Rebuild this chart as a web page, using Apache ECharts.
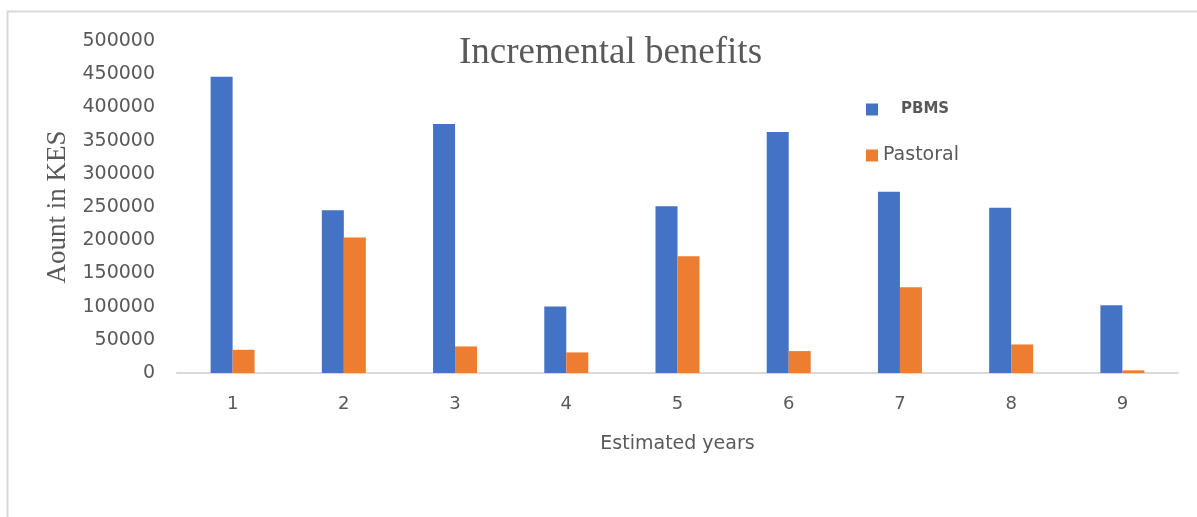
<!DOCTYPE html>
<html>
<head>
<meta charset="utf-8">
<script src="https://cdn.jsdelivr.net/npm/echarts@6/dist/echarts.min.js"></script>
<style>
  html, body { margin: 0; padding: 0; background: #fff; }
  #chart { width: 1197px; height: 517px; }
</style>
</head>
<body>
<div id="chart"></div>
<script>
// Incremental benefits per estimated year (KES)
const years = ['1', '2', '3', '4', '5', '6', '7', '8', '9'];
const pbms = [446000, 245000, 375000, 100000, 251000, 363000, 273000, 249000, 102000];
const pastoral = [35000, 204000, 40000, 31000, 176000, 33000, 129000, 43000, 4000];
const yTicks = [0, 50000, 100000, 150000, 200000, 250000, 300000, 350000, 400000, 450000, 500000];

const grey = '#595959';
const chart = echarts.init(document.getElementById('chart'));

chart.setOption({
  animation: false,
  backgroundColor: '#fff',
  title: {
    text: 'Incremental benefits',
    left: 454,
    top: 30,
    textStyle: { fontFamily: 'Liberation Serif', fontSize: 37, fontWeight: 'normal', color: grey }
  },
  legend: [
    {
      data: ['PBMS'],
      left: 861, top: 97,
      itemWidth: 12, itemHeight: 12,
      icon: 'rect',
      textStyle: { fontFamily: 'DejaVu Sans', fontSize: 15, fontWeight: 'bold', color: grey, padding: [0, 0, 6, 18] }
    },
    {
      data: ['Pastoral'],
      left: 861, top: 141,
      itemWidth: 12, itemHeight: 12,
      icon: 'rect',
      textStyle: { fontFamily: 'DejaVu Sans', fontSize: 19, color: grey }
    }
  ],
  grid: { left: 177, right: 19, top: 41, bottom: 144, containLabel: false },
  xAxis: {
    type: 'category',
    data: years,
    name: 'Estimated years',
    nameLocation: 'middle',
    nameGap: 62,
    nameTextStyle: { fontFamily: 'DejaVu Sans', fontSize: 19, color: grey },
    axisLine: { lineStyle: { color: '#d9d9d9', width: 2 } },
    axisTick: { show: false },
    axisLabel: { fontFamily: 'DejaVu Sans', fontSize: 18, color: grey, margin: 22 }
  },
  yAxis: {
    type: 'value',
    min: yTicks[0],
    max: yTicks[yTicks.length - 1],
    interval: yTicks[1] - yTicks[0],
    name: 'Aount in KES',
    nameLocation: 'middle',
    nameGap: 102,
    nameRotate: 90,
    nameTextStyle: { fontFamily: 'Liberation Serif', fontSize: 27, color: grey },
    axisLine: { show: false },
    axisTick: { show: false },
    splitLine: { show: false },
    axisLabel: {
      fontFamily: 'DejaVu Sans', fontSize: 19, color: grey, margin: 22,
      formatter: (v) => String(v)
    }
  },
  series: [
    {
      name: 'PBMS',
      type: 'bar',
      data: pbms,
      barWidth: 22,
      barGap: '0%',
      itemStyle: { color: '#4472c4' }
    },
    {
      name: 'Pastoral',
      type: 'bar',
      data: pastoral,
      barWidth: 22,
      itemStyle: { color: '#ed7d31' }
    }
  ],
  graphic: [
    {
      type: 'polyline',
      shape: { points: [[7.5, 517], [7.5, 11.5], [1197, 11.5]] },
      style: { stroke: '#d9d9d9', lineWidth: 2, fill: null },
      silent: true
    }
  ]
});
</script>
</body>
</html>
